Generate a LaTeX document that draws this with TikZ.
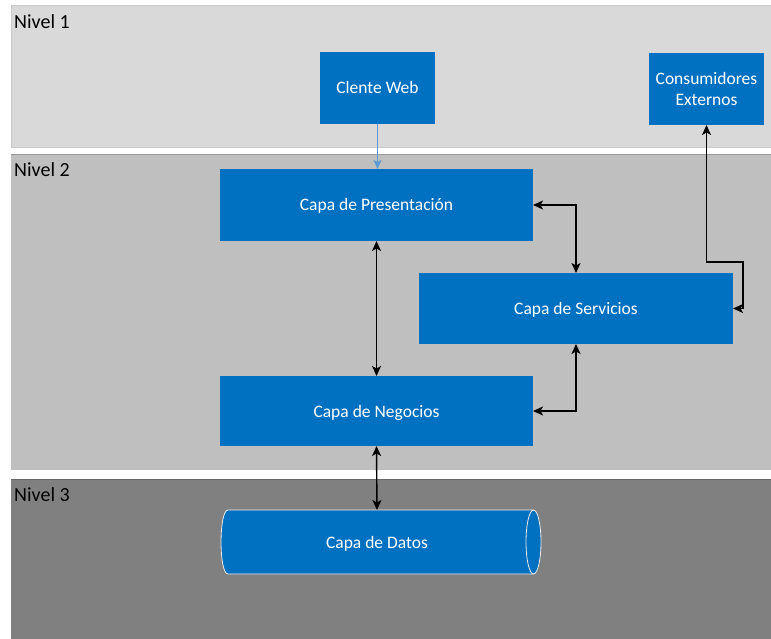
\documentclass[tikz,border=0pt]{standalone}
\usepackage{fontspec}
\setmainfont{Carlito}
\usetikzlibrary{arrows.meta}
\definecolor{boxblue}{HTML}{0070C0}
\definecolor{bandA}{HTML}{D9D9D9}
\definecolor{bandB}{HTML}{BFBFBF}
\definecolor{bandC}{HTML}{808080}
\definecolor{lightarrow}{HTML}{5B9BD5}
\begin{document}
\begin{tikzpicture}[x=1pt,y=-1pt,
  layerbox/.style={fill=boxblue,draw=none,inner sep=0pt,outer sep=0pt,text=white,align=center,
    font=\fontsize{17.5}{21}\selectfont},
  onelinetext/.style={text height=13.5pt,text depth=1.5pt},
  bandlabel/.style={anchor=base west,inner sep=0pt,font=\fontsize{20}{24}\selectfont,text=black},
  biarrow/.style={draw=black,line width=1.4pt,{Stealth[length=10pt,width=9pt,inset=2.5pt]}-{Stealth[length=10pt,width=9pt,inset=2.5pt]}},
  webarrow/.style={draw=lightarrow,line width=1.3pt,-{Stealth[length=9pt,width=8pt,inset=2pt]}}]
\useasboundingbox (0,0) rectangle (771,639);
\fill[white] (0,0) rectangle (771,639);
% bands
\filldraw[fill=bandA,draw=bandB!85!white,line width=1pt] (11,6) rectangle (775,148);
\fill[bandB] (11,154) rectangle (771,470);
\draw[bandB!80!black,line width=0.6pt] (11,154) -- (771,154);
\fill[bandC] (11,479) rectangle (771,639);
\draw[bandC!80!black,line width=0.6pt] (11,479) -- (771,479);
\node[bandlabel] (n1) at (14,29) {Nivel 1};
\node[bandlabel] (n2) at (14,177) {Nivel 2};
\node[bandlabel] (n3) at (14,501) {Nivel 3};
% nodes
\node[layerbox,onelinetext,minimum width=115pt,minimum height=72pt] (web) at (377.5,88) {Clente Web};
\node[layerbox,minimum width=115pt,minimum height=72pt] (cons) at (706.5,89) {Consumidores\\Externos};
\node[layerbox,onelinetext,minimum width=313pt,minimum height=72pt] (pres) at (376.5,205) {Capa de Presentación};
\node[layerbox,onelinetext,minimum width=314pt,minimum height=71pt] (serv) at (576,308.5) {Capa de Servicios};
\node[layerbox,onelinetext,minimum width=313pt,minimum height=70pt] (neg) at (376.5,411) {Capa de Negocios};
% cylinder
\fill[boxblue] (228,510) -- (533.5,510) .. controls (543.5,510) and (543.5,574) .. (533.5,574)
  -- (228,574) .. controls (218.7,574) and (218.7,510) .. (228,510) -- cycle;
\draw[white!85!gray,line width=0.8pt] (533.5,510) -- (228,510) .. controls (218.7,510) and (218.7,574) .. (228,574) -- (533.5,574);
\draw[white!85!gray,line width=0.8pt] (533.5,542) ellipse[x radius=7.5pt,y radius=32pt];
\node[inner sep=0pt,outer sep=0pt,minimum width=313pt,minimum height=64pt,text=white,onelinetext,
  font=\fontsize{17.5}{21}\selectfont] (datos) at (377,542) {Capa de Datos};
\coordinate (elbow) at (743,262);
% connectors
\draw[webarrow] (web.south) -- (web.south |- pres.north);
\draw[biarrow] (pres.south) -- (pres.south |- neg.north);
\draw[biarrow] (pres.east) -| (serv.north);
\draw[biarrow] (neg.east) -| (serv.south);
\draw[biarrow] (cons.south) |- (elbow) |- (serv.east);
\draw[biarrow] (neg.south) -- (datos.north);
\end{tikzpicture}
\end{document}
